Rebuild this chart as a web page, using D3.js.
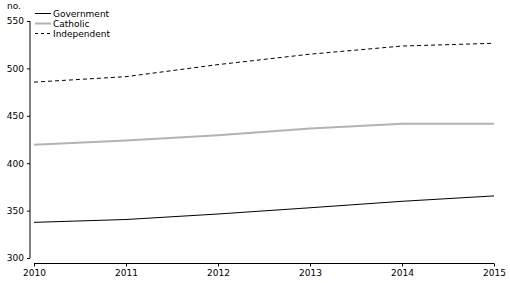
<!DOCTYPE html>
<html>
<head>
<meta charset="utf-8">
<script src="https://cdn.jsdelivr.net/npm/d3@7"></script>
<style>
    body { margin: 0; background: #fff; }
    svg text { font-family: "DejaVu Sans", sans-serif; font-size: 9px; fill: #000; }
</style>
</head>
<body>
<svg id="chart" width="510" height="283"></svg>
<script>
// years along the x axis
var years = [2010, 2011, 2012, 2013, 2014, 2015];

// values (no.)
var government = [337.6, 340.6, 346.4, 353.0, 359.8, 365.5];
var catholic = [419.5, 424.0, 429.4, 436.5, 441.6, 441.6];
var independent = [485.5, 491.3, 504.0, 515.0, 523.6, 526.5];

var yTicks = [300, 350, 400, 450, 500, 550];

var series = [
    { name: "Government", values: government, color: "#000", width: 1, dash: null },
    { name: "Catholic", values: catholic, color: "#b3b3b3", width: 2, dash: null },
    { name: "Independent", values: independent, color: "#000", width: 1, dash: "4,3" }
];

var svg = d3.select("#chart");

var x = d3.scaleLinear().domain([2010, 2015]).range([34, 494]);
var y = d3.scaleLinear().domain([300, 550]).range([258, 21]);

// y axis
svg.append("g")
    .attr("transform", "translate(30,0)")
    .call(d3.axisLeft(y).tickValues(yTicks).tickSize(3).tickPadding(3).tickFormat(d3.format("d")))
    .call(function(g) {
        g.select(".domain").attr("d", "M0," + y(300) + "V" + y(550));
        g.selectAll("text").style("font-family", "DejaVu Sans").style("font-size", "9px");
    });

svg.append("text")
    .attr("x", 7)
    .attr("y", 9)
    .text("no.");

// x axis
svg.append("g")
    .attr("transform", "translate(0,263.5)")
    .call(d3.axisBottom(x).tickValues(years).tickSize(3).tickPadding(3).tickFormat(d3.format("d")))
    .call(function(g) {
        g.select(".domain").attr("d", "M" + x(2010) + ",0H" + x(2015));
        g.selectAll("text").style("font-family", "DejaVu Sans").style("font-size", "9px");
    });

var line = d3.line()
    .x(function(d, i) { return x(years[i]); })
    .y(function(d) { return y(d); });

series.forEach(function(s) {
    svg.append("path")
        .datum(s.values)
        .attr("fill", "none")
        .attr("stroke", s.color)
        .attr("stroke-width", s.width)
        .attr("stroke-dasharray", s.dash)
        .attr("d", line);
});

// legend
var legend = svg.append("g").attr("class", "legend");
series.forEach(function(s, i) {
    var ly = 13.5 + i * 10;
    legend.append("line")
        .attr("x1", 35).attr("x2", 51)
        .attr("y1", ly).attr("y2", ly)
        .attr("stroke", s.color)
        .attr("stroke-width", s.width)
        .attr("stroke-dasharray", s.dash ? "3,3" : null);
    legend.append("text")
        .attr("x", 53)
        .attr("y", ly + 3)
        .text(s.name);
});
</script>
</body>
</html>
